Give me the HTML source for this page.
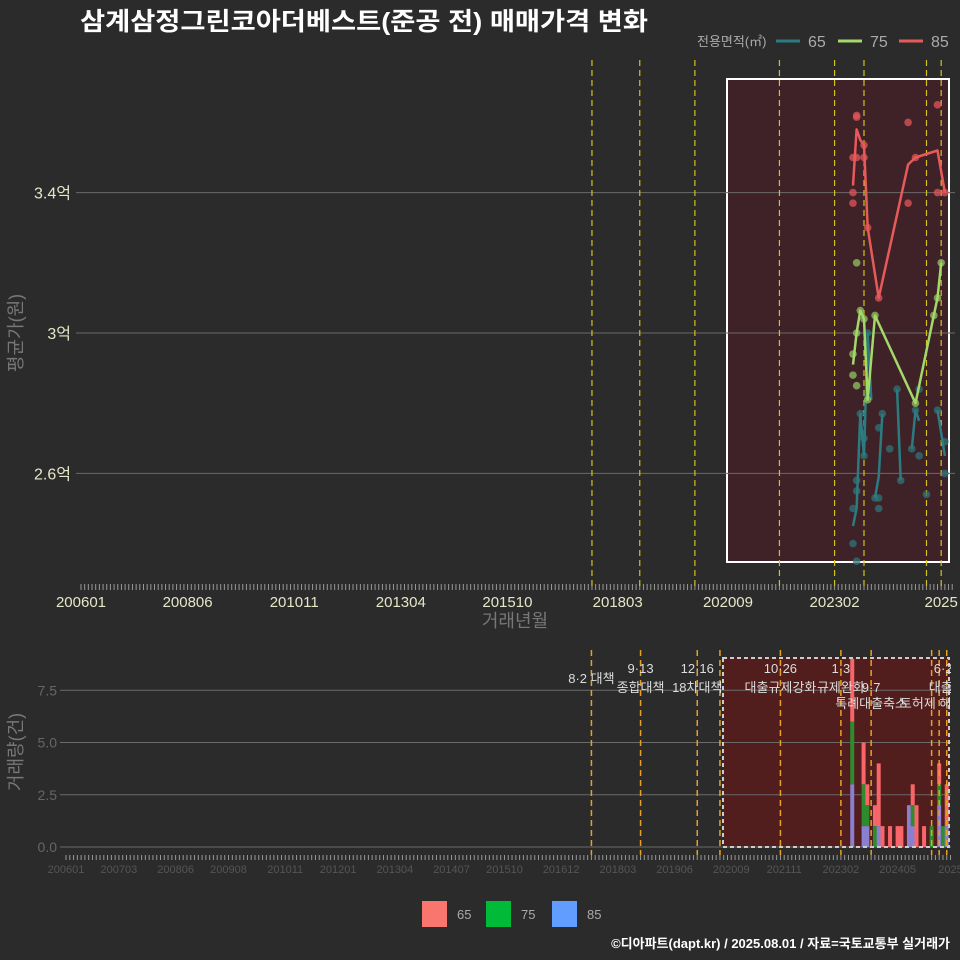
<!DOCTYPE html>
<html><head><meta charset="utf-8">
<style>
html,body{margin:0;padding:0;background:#2b2b2b;}
svg{display:block;font-family:"Liberation Sans","Noto Sans CJK KR",sans-serif;}
</style></head>
<body>
<svg id="chart" width="960" height="960" viewBox="0 0 960 960" xmlns="http://www.w3.org/2000/svg">
<rect x="0" y="0" width="960" height="960" fill="#2b2b2b"/>
<text x="80" y="30" fill="#ffffff" font-size="25" font-weight="bold" textLength="568" lengthAdjust="spacingAndGlyphs">삼계삼정그린코아더베스트(준공 전) 매매가격 변화</text>
<g>
<text x="697" y="46" fill="#aaaaaa" font-size="13">전용면적(㎡)</text>
<line x1="776" y1="41" x2="800" y2="41" stroke="#2b7b80" stroke-width="3"/>
<text x="808" y="47" fill="#aaaaaa" font-size="16">65</text>
<line x1="838" y1="41" x2="862" y2="41" stroke="#a3d86a" stroke-width="3"/>
<text x="870" y="47" fill="#aaaaaa" font-size="16">75</text>
<line x1="899" y1="41" x2="923" y2="41" stroke="#e85a5a" stroke-width="3"/>
<text x="931" y="47" fill="#aaaaaa" font-size="16">85</text>
</g>
<text transform="translate(22,333) rotate(-90)" text-anchor="middle" fill="#777777" font-size="18">평균가(원)</text>
<text x="515" y="627" text-anchor="middle" fill="#777777" font-size="18">거래년월</text>
<text transform="translate(22,752) rotate(-90)" text-anchor="middle" fill="#777777" font-size="18">거래량(건)</text>
<g id="topPanel"></g>
<g id="botPanel"></g>
<g>
<rect x="422" y="901" width="25" height="26" fill="#f8766d"/>
<text x="457" y="919" fill="#aaaaaa" font-size="13">65</text>
<rect x="486" y="901" width="25" height="26" fill="#00ba38"/>
<text x="521" y="919" fill="#aaaaaa" font-size="13">75</text>
<rect x="552" y="901" width="25" height="26" fill="#619cff"/>
<text x="587" y="919" fill="#aaaaaa" font-size="13">85</text>
</g>
<text x="950" y="948" text-anchor="end" fill="#ffffff" font-size="13" font-weight="bold">©디아파트(dapt.kr) / 2025.08.01 / 자료=국토교통부 실거래가</text>
</svg>
<script>
// month index: 0 = 2006-01
const topTickMonths = [0, 29, 58, 87, 116, 146, 176, 205, 234];
const topTickLabels = ["200601","200806","201011","201304","201510","201803","202009","202302","2025"];
const yTickValues = [2.6, 3.0, 3.4];
const yTickLabels = ["2.6억","3억","3.4억"];
const policyMonthsTop = [139, 152, 167, 190, 205, 213, 230, 234];
// series 85
const m85Line = [210, 211, 212, 213, 214, 217, 225, 227, 233, 235];
const v85Line = [3.42, 3.58, 3.55, 3.535, 3.30, 3.10, 3.48, 3.50, 3.52, 3.40];
const m85Pts = [210, 210, 210, 211, 211, 211, 213, 213, 214, 217, 225, 225, 227, 233, 233, 235];
const v85Pts = [3.40, 3.37, 3.50, 3.62, 3.615, 3.50, 3.535, 3.50, 3.30, 3.10, 3.60, 3.37, 3.50, 3.65, 3.40, 3.40];
// series 75
const m75Line = [210, 211, 212, 213, 214, 216, 227, 232, 233, 234];
const v75Line = [2.91, 3.0, 3.064, 3.04, 2.81, 3.05, 2.80, 3.05, 3.10, 3.20];
const m75Pts = [210, 210, 211, 211, 211, 212, 213, 214, 216, 227, 232, 233, 234];
const v75Pts = [2.94, 2.88, 2.85, 3.20, 3.0, 3.064, 3.04, 2.81, 3.05, 2.80, 3.05, 3.10, 3.20];
// series 65 (null = gap)
const m65Line = [210, 211, 212, 213, 214, 215, null, 216, 217, 218, null, 222, 223, null, 226, 227, 228, null, 233, 235];
const v65Line = [2.45, 2.50, 2.77, 2.65, 3.0, 2.81, null, 2.53, 2.59, 2.77, null, 2.84, 2.58, null, 2.67, 2.78, 2.75, null, 2.78, 2.65];
const m65Pts = [210, 210, 211, 211, 211, 212, 213, 213, 214, 216, 217, 217, 217, 218, 220, 222, 223, 226, 227, 228, 228, 230, 233, 235, 235];
const v65Pts = [2.50, 2.40, 2.35, 2.58, 2.55, 2.77, 2.70, 2.65, 3.0, 2.53, 2.53, 2.50, 2.73, 2.77, 2.67, 2.84, 2.58, 2.67, 2.78, 2.84, 2.65, 2.54, 2.78, 2.69, 2.60];

// volume chart
const botTickMonths = [0,14,29,43,58,72,87,102,116,131,146,161,176,190,205,220,234];
const botTickLabels = ["200601","200703","200806","200908","201011","201201","201304","201407","201510","201612","201803","201906","202009","202111","202302","202405","2025"];
const volTicks = [0, 2.5, 5.0, 7.5];
const volTickLabels = ["0.0","2.5","5.0","7.5"];
const barMonths = [208, 211, 212, 214, 215, 216, 218, 220, 221, 223, 224, 225, 227, 229, 231, 232, 233];
const vol85 = [3, 1, 1, 0, 1, 0, 0, 0, 0, 2, 1, 0, 0, 0, 2, 0, 1];
const vol75 = [3, 2, 1, 1, 0, 0, 0, 0, 0, 0, 1, 0, 0, 1, 1, 1, 0];
const vol65 = [3, 2, 1, 1, 3, 1, 1, 1, 1, 0, 1, 2, 1, 0, 1, 0, 2];
const policyMonthsBot = [139, 152, 167, 173, 189, 205, 213, 229, 231, 233];
const policyTop = ["8·2 대책","9·13","12·16","10·26","1·3","6·27"];
const policyTopMonths = [139, 152, 167, 189, 205, 233];
const policyLine2 = ["종합대책","18차대책","대출규제강화","규제완화","9·7","대출규"];
const policyLine2Months = [152, 167, 189, 205, 213, 233];
const policyLine3 = ["특례대출축소","토허제 해제"];
const policyLine3Months = [213, 229];

const NS = "http://www.w3.org/2000/svg";
function mk(parent, tag, attrs, text){
  const e = document.createElementNS(NS, tag);
  for (const k in attrs) e.setAttribute(k, attrs[k]);
  if (text !== undefined) e.textContent = text;
  parent.appendChild(e);
  return e;
}
const xT = m => 81 + m * 3.676;
const yT = v => 333 - (v - 3) * 351;
const xB = m => 66 + m * 3.78;
const yB = v => 847 - v * 20.9;

const topG = document.getElementById('topPanel');
const botG = document.getElementById('botPanel');

// ---- top panel ----
let el;
el = mk(topG, 'rect', {x:727, y:79, width:222, height:483, fill:'#3e2227', stroke:'#ffffff', 'stroke-width':2});


yTickValues.forEach((v, i) => {
  el = mk(topG, 'line', {x1:76, x2:955, y1:yT(v), y2:yT(v), stroke:'#6a6a6a', 'stroke-width':1});
  
  
  el = mk(topG, 'text', {x:71, y:yT(v)+6, 'text-anchor':'end', fill:'#e6e6c8', 'font-size':16}, yTickLabels[i]);
  
  
});
for (let m = 0; m <= 237; m++) {
  el = mk(topG, 'line', {x1:xT(m), x2:xT(m), y1:584, y2:590, stroke:'#999999', 'stroke-width':1});
  
  
}
topTickMonths.forEach((m, i) => {
  el = mk(topG, 'text', {x:xT(m), y:607, 'text-anchor':'middle', fill:'#e6e6c8', 'font-size':15}, topTickLabels[i]);
  
  
});
policyMonthsTop.forEach(m => {
  el = mk(topG, 'line', {x1:xT(m), x2:xT(m), y1:60, y2:590, stroke:'#d4c21a', 'stroke-width':1.2, 'stroke-dasharray':'6,4'});
  
  
});
function drawLine(ms, vs, color, name){
  let d = '', pen = false;
  ms.forEach((m, i) => {
    if (m === null || vs[i] === null) { pen = false; return; }
    d += (pen ? 'L' : 'M') + xT(m).toFixed(1) + ',' + yT(vs[i]).toFixed(1);
    pen = true;
  });
  el = mk(topG, 'path', {d:d, fill:'none', stroke:color, 'stroke-width':2.5, 'stroke-linejoin':'round'});
  
  
}
function drawPts(ms, vs, color, name){
  ms.forEach((m, i) => {
    el = mk(topG, 'circle', {cx:xT(m), cy:yT(vs[i]), r:3.8, fill:color, 'fill-opacity':0.75});
    
    
  });
}
drawPts(m65Pts, v65Pts, '#2f7478', 'point-65');
drawLine(m65Line, v65Line, '#2b7b80', 'line-65');
drawPts(m75Pts, v75Pts, '#93c462', 'point-75');
drawLine(m75Line, v75Line, '#a3d86a', 'line-75');
drawPts(m85Pts, v85Pts, '#e25558', 'point-85');
drawLine(m85Line, v85Line, '#e85a5a', 'line-85');

// ---- bottom panel ----
el = mk(botG, 'rect', {x:723, y:658, width:226, height:189, fill:'#521d1d'});


volTicks.forEach((v, i) => {
  el = mk(botG, 'line', {x1:60, x2:955, y1:yB(v), y2:yB(v), stroke:'#6a6a6a', 'stroke-width':1});
  
  
  el = mk(botG, 'text', {x:57, y:yB(v)+5, 'text-anchor':'end', fill:'#666666', 'font-size':14}, volTickLabels[i]);
  
  
});
for (let m = 0; m <= 235; m++) {
  el = mk(botG, 'line', {x1:xB(m), x2:xB(m), y1:855, y2:860, stroke:'#999999', 'stroke-width':1});
  
  
}
botTickMonths.forEach((m, i) => {
  el = mk(botG, 'text', {x:xB(m), y:873, 'text-anchor':'middle', fill:'#555555', 'font-size':11}, botTickLabels[i]);
  
  
});
barMonths.forEach((m, i) => {
  const segs = [[vol85[i], '#8b7fd0'], [vol75[i], '#2e8b2e'], [vol65[i], '#f8666a']];
  let base = 0;
  segs.forEach(([v, c], j) => {
    if (!v) return;
    el = mk(botG, 'rect', {x:xB(m)-2, y:yB(base+v), width:4, height:yB(base)-yB(base+v), fill:c});
    
    
    base += v;
  });
});
policyMonthsBot.forEach(m => {
  el = mk(botG, 'line', {x1:xB(m), x2:xB(m), y1:650, y2:855, stroke:'#e8a020', 'stroke-width':1.5, 'stroke-dasharray':'6,4'});
  
  
});
el = mk(botG, 'rect', {x:723, y:658, width:226, height:189, fill:'none', stroke:'#cccccc', 'stroke-width':2, 'stroke-dasharray':'4,3'});


policyTop.forEach((t, i) => {
  const m = policyTopMonths[i];
  el = mk(botG, 'text', {x:xB(m), y:i === 0 ? 683 : 673, 'text-anchor':'middle', fill:'#dddddd', 'font-size':13}, t);
  
  
});
policyLine2.forEach((t, i) => {
  el = mk(botG, 'text', {x:xB(policyLine2Months[i]), y:692, 'text-anchor':'middle', fill:'#dddddd', 'font-size':13}, t);
  
  
});
policyLine3.forEach((t, i) => {
  el = mk(botG, 'text', {x:xB(policyLine3Months[i]), y:708, 'text-anchor':'middle', fill:'#dddddd', 'font-size':13}, t);
  
  
});
el = mk(botG, 'rect', {x:951, y:640, width:9, height:220, fill:'#2b2b2b'});


</script>
</body></html>
